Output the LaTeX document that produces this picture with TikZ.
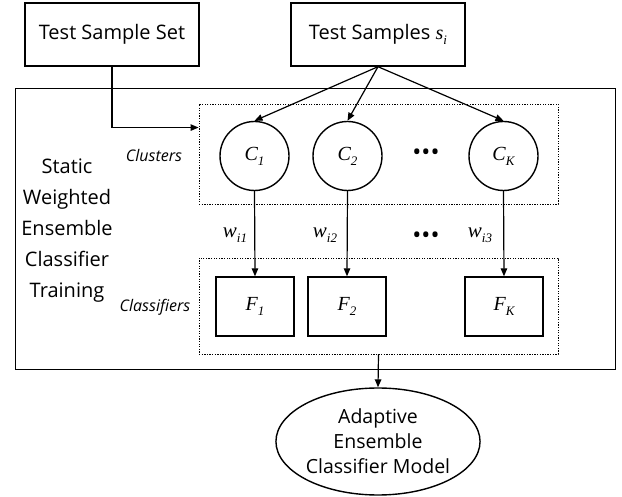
\documentclass[tikz,border=0pt]{standalone}
\usepackage{fontspec}
\setmainfont{Open Sans}
\newfontfamily\tms{Liberation Serif}
\usetikzlibrary{arrows.meta,shapes.geometric,calc}
\newcommand\sbs[1]{\raisebox{-0.25em}{\fontsize{13}{13}\selectfont #1}}
\begin{document}
\begin{tikzpicture}[x=1pt,y=-1pt,
  box/.style={draw,line width=1.4pt,inner sep=0pt},
  dotbox/.style={draw,line width=0.9pt,dash pattern=on 1.3pt off 1.3pt,inner sep=0pt},
  conn/.style={line width=1.2pt,-{Triangle[length=8pt,width=6.5pt]}},
  mth/.style={font=\tms\itshape\fontsize{20}{20}\selectfont},
  wlab/.style={font=\tms\itshape\fontsize{21}{21}\selectfont},
  top/.style={box,minimum width=174pt,minimum height=63pt,font=\fontsize{20}{24}\selectfont},
  fbox/.style={box,minimum width=78pt,minimum height=59pt,mth},
  cnode/.style={box,circle,minimum size=69pt,mth},
  side/.style={font=\itshape\fontsize{16}{16}\selectfont},
  dots/.style={font=\fontsize{24}{24}\selectfont},
]
\useasboundingbox (0,0) rectangle (622,497);
\node[top] (tss) at (112,34.5) {Test Sample Set};
\node[top] (ts) at (378,34.5) {Test Samples {\tms\itshape s\sbs{i}}};
\node[draw,line width=1pt,minimum width=600pt,minimum height=281pt,inner sep=0pt] (big) at (315,229.5) {};
\node[dotbox,minimum width=359pt,minimum height=100pt] (clu) at (378.5,154) {};
\node[dotbox,minimum width=359pt,minimum height=96pt] (cls) at (378.5,306) {};
\node[align=center,font=\fontsize{20}{31}\selectfont] (lab) at (67,231) {Static\\Weighted\\Ensemble\\Classifier\\Training};
\node[side] (clul) at (154,156) {Clusters};
\node[side] (clsl) at (155,307) {Classifiers};
\node[cnode] (c1) at (254.5,156) {C\sbs{1}};
\node[cnode] (c2) at (347.5,156) {C\sbs{2}};
\node[cnode] (ck) at (503.5,156) {C\sbs{K}};
\node[dots] (d1) at (426,155) {•••};
\node[fbox] (f1) at (255,306.5) {F\sbs{1}};
\node[fbox] (f2) at (347,306.5) {F\sbs{2}};
\node[fbox] (fk) at (504,306.5) {F\sbs{K}};
\node[dots] (d2) at (426,238) {•••};
\node[wlab] (w1) at (235,235) {w\sbs{i1}};
\node[wlab] (w2) at (325,235) {w\sbs{i2}};
\node[wlab] (w3) at (480,235) {w\sbs{i3}};
\node[draw,line width=1.4pt,ellipse,minimum width=204pt,minimum height=107pt,inner sep=0pt,align=center,font=\fontsize{19.5}{25}\selectfont] (out) at (378,441.5) {Adaptive\\Ensemble\\Classifier Model};
\path (clu.north west) ++(0,24) coordinate (cin);
\draw[conn] (tss.south) |- (cin);
\draw[conn] (ts.south) -- (c1.north);
\draw[conn] (ts.south) -- (c2.north);
\draw[conn] (ts.south) -- (ck.north);
\draw[conn] (c1.south) -- (f1.north);
\draw[conn] (c2.south) -- (f2.north);
\draw[conn] (ck.south) -- (fk.north);
\draw[conn] (cls.south) -- (out.north);
\end{tikzpicture}
\end{document}
